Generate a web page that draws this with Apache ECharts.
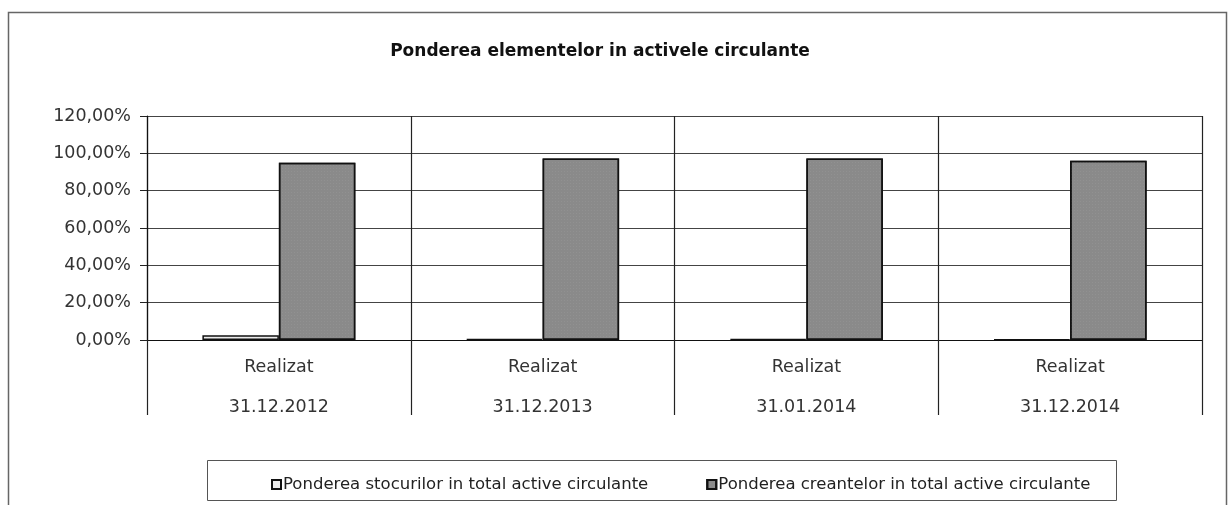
<!DOCTYPE html>
<html>
<head>
<meta charset="utf-8">
<script src="https://cdn.jsdelivr.net/npm/echarts@6/dist/echarts.min.js"></script>
<style>html,body{margin:0;padding:0;background:#fff;}#c{width:1230px;height:505px;}</style>
</head>
<body>
<div id="c"></div>
<script>
const categories = ['Realizat\n31.12.2012', 'Realizat\n31.12.2013', 'Realizat\n31.01.2014', 'Realizat\n31.12.2014'];
const stocuri = [2.5, 0.6, 0.5, 0.4];
const creante = [95.0, 97.2, 97.2, 96.0];
const seriesNames = ['Ponderea stocurilor in total active circulante', 'Ponderea creantelor in total active circulante'];
const titleText = 'Ponderea elementelor in activele circulante';

const FONT = 'DejaVu Sans, Liberation Sans, Arial, sans-serif';
const chart = echarts.init(document.getElementById('c'), null, {renderer: 'canvas'});
const fmt = v => v.toFixed(2).replace('.', ',') + '%';
chart.setOption({
  backgroundColor: '#fff',
  animation: false,
  textStyle: {fontFamily: FONT},
  title: {
    text: titleText, left: 595, top: 38, textAlign: 'center',
    textStyle: {fontSize: 17, fontWeight: 'bold', color: '#111', fontFamily: FONT}
  },
  graphic: [
    {type: 'rect', shape: {x: 8.5, y: 12.5, width: 1218, height: 500}, style: {fill: 'none', stroke: '#666', lineWidth: 1.5}, silent: true, z: -1},
    {type: 'rect', shape: {x: 207.5, y: 460.5, width: 909, height: 40}, style: {fill: 'none', stroke: '#555', lineWidth: 1}, silent: true}
  ],
  legend: {
    data: seriesNames, left: 266, top: 471, itemWidth: 9, itemHeight: 9, itemGap: 58,
    textStyle: {fontSize: 16.5, color: '#222', fontFamily: FONT, padding: [0, 0, 0, -3]},
    icon: 'rect'
  },
  grid: {left: 147, right: 28, top: 116, bottom: 165, containLabel: false},
  xAxis: {
    type: 'category', data: categories,
    axisLine: {lineStyle: {color: '#111', width: 1.2}},
    axisTick: {show: true, interval: 0, length: 75, lineStyle: {color: '#222', width: 1.2}},
    splitLine: {show: true, interval: 0, lineStyle: {color: '#222', width: 1.2}},
    axisLabel: {interval: 0, margin: 7, lineHeight: 40, fontSize: 17.5, color: '#333', fontFamily: FONT}
  },
  yAxis: {
    type: 'value', min: 0, max: 120, interval: 20,
    axisLine: {show: true, lineStyle: {color: '#111', width: 1.2}},
    axisTick: {show: true, length: 7, lineStyle: {color: '#222'}},
    splitLine: {show: true, lineStyle: {color: '#444', width: 1.2}},
    axisLabel: {formatter: fmt, fontSize: 17.5, color: '#333', margin: 16, fontFamily: FONT}
  },
  series: [
    {name: seriesNames[0], type: 'bar', data: stocuri, barGap: '0%', barCategoryGap: '42%',
     itemStyle: {color: '#ececec', borderColor: '#111', borderWidth: 1.5}},
    {name: seriesNames[1], type: 'bar', data: creante, barGap: '0%', barCategoryGap: '42%',
     itemStyle: {color: '#8a8a8a', borderColor: '#111', borderWidth: 1.5,
       decal: {symbol: 'rect', symbolSize: 0.5, dashArrayX: [1, 2], dashArrayY: [1, 2], color: 'rgba(200,200,200,0.5)', rotation: 0}}}
  ]
});
</script>
</body>
</html>
